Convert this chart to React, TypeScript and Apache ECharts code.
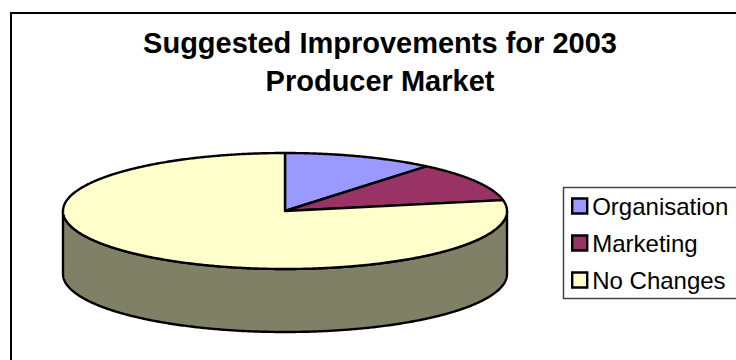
import React, { useEffect, useRef } from "react";
import * as echarts from "echarts";

const categories = ["Organisation", "Marketing", "No Changes"];
const shares = [11, 11, 78];
const topColors = ["#9999FF", "#993366", "#FFFFCC"];
const sideColors = ["#4D4D80", "#4D1A33", "#808066"];
const titleLines = ["Suggested Improvements for 2003", "Producer Market"];

// Disc geometry: centre, radii of the tilted ellipse, and height of its rim.
const CX = 285;
const CY = 211;
const RX = 222;
const RY = 58;
const DEPTH = 63;

const pointAt = (deg: number, dy = 0): number[] => {
  const a = (deg * Math.PI) / 180;
  return [CX + RX * Math.sin(a), CY - RY * Math.cos(a) + dy];
};

const arcPoints = (from: number, to: number, dy = 0): number[][] => {
  const out: number[][] = [];
  const steps = Math.max(2, Math.ceil((to - from) * 2));
  for (let i = 0; i <= steps; i++) out.push(pointAt(from + ((to - from) * i) / steps, dy));
  return out;
};

const total = shares.reduce((s, v) => s + v, 0);
let running = 0;
const spans = shares.map((v) => {
  const start = (running / total) * 360;
  running += v;
  return [start, (running / total) * 360];
});

const stroke = { stroke: "#000", lineWidth: 2.4, lineJoin: "round" as const };

// One slice: the visible front rim first, then the top face.
const renderSlice = (index: number) => (_params: any, api: any) => {
  const start = api.value(0);
  const end = api.value(1);
  const children: any[] = [];
  const rimFrom = Math.max(start, 90);
  const rimTo = Math.min(end, 270);
  if (rimTo > rimFrom) {
    children.push({
      type: "polygon",
      shape: { points: [...arcPoints(rimFrom, rimTo), ...arcPoints(rimFrom, rimTo, DEPTH).reverse()] },
      style: { fill: sideColors[index], ...stroke },
    });
  }
  children.push({
    type: "polygon",
    shape: { points: [[CX, CY], ...arcPoints(start, end)] },
    style: { fill: topColors[index], ...stroke },
  });
  return { type: "group", children };
};

export default function App() {
  const ref = useRef<HTMLDivElement>(null);

  useEffect(() => {
    const chart = echarts.init(ref.current!, null, { renderer: "svg" });
    chart.setOption({
      animation: false,
      backgroundColor: "#fff",
      title: {
        text: titleLines.join("\n"),
        left: 375,
        top: 19,
        textAlign: "center",
        textStyle: {
          fontFamily: "Liberation Sans",
          fontWeight: "bold",
          fontSize: 29,
          lineHeight: 38,
          color: "#000",
        },
      },
      legend: {
        left: 571,
        top: 194,
        padding: 0,
        orient: "vertical",
        itemWidth: 15,
        itemHeight: 15,
        itemGap: 13,
        selectedMode: false,
        icon: "rect",
        textStyle: { fontFamily: "Liberation Sans", fontSize: 24, color: "#000", padding: [0, 0, 0, 0] },
        data: categories.map((name, i) => ({
          name,
          itemStyle: { color: topColors[i], borderColor: "#000", borderWidth: 2.4 },
        })),
      },
      graphic: [
        {
          type: "polyline",
          silent: true,
          z: -1,
          shape: { points: [[11, 360], [11, 13], [736, 13]] },
          style: { fill: "none", stroke: "#000", lineWidth: 2 },
        },
        {
          type: "polyline",
          silent: true,
          z: -1,
          shape: { points: [[736, 187.5], [563.5, 187.5], [563.5, 298.5], [736, 298.5]] },
          style: { fill: "none", stroke: "#444", lineWidth: 1.5 },
        },
      ],
      series: categories.map((name, i) => ({
        type: "custom",
        name,
        coordinateSystem: "none",
        silent: true,
        renderItem: renderSlice(i),
        data: [spans[i]],
      })),
    });
    return () => chart.dispose();
  }, []);

  return <div ref={ref} style={{ position: "absolute", left: 0, top: 0, width: 736, height: 360 }} />;
}
